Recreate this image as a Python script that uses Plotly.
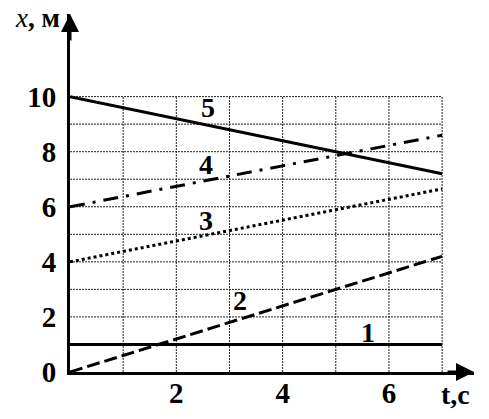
import plotly.graph_objects as go

# time points (s) and coordinates (m) for each motion line
t = [0, 7]
x1 = [1, 1]
x2 = [0, 4.2]
x3 = [4, 6.65]
x4 = [6, 8.6]
x5 = [10, 7.2]

# line number labels
label_t = [5.6, 3.2, 2.55, 2.55, 2.6]
label_x = [1.45, 2.6, 5.5, 7.55, 9.6]
label_text = ["1", "2", "3", "4", "5"]

grid_t = [1, 2, 3, 4, 5, 6, 7]
grid_x = [1, 2, 3, 4, 5, 6, 7, 8, 9, 10]
xticks = [2, 4, 6]
yticks = [0, 2, 4, 6, 8, 10]

serif = "Liberation Serif, Times New Roman, serif"

fig = go.Figure()

# grid only covers 0..7 s and 0..10 m, so draw it as shapes
for g in grid_t:
    fig.add_shape(type="line", x0=g, x1=g, y0=0, y1=10,
                  line=dict(color="#222", width=1, dash="2px,1px"), layer="below")
for g in grid_x:
    fig.add_shape(type="line", x0=0, x1=7, y0=g, y1=g,
                  line=dict(color="#222", width=1, dash="2px,1px"), layer="below")

styles = [
    (x1, "solid"),
    (x2, "13px,5px"),
    (x3, "3px,3px"),
    (x4, "15px,8px,3px,8px"),
    (x5, "solid"),
]
for ys, dash in styles:
    fig.add_trace(go.Scatter(x=t, y=ys, mode="lines",
                             line=dict(color="black", width=3, dash=dash),
                             showlegend=False))

for lt, lx, txt in zip(label_t, label_x, label_text):
    fig.add_annotation(x=lt, y=lx, text=txt, showarrow=False,
                       font=dict(family=serif, size=28, color="black", weight="bold"))

# axis arrows
fig.add_annotation(x=7.6, y=0, ax=-28, ay=0, xref="x", yref="y",
                   showarrow=True, arrowhead=2, arrowsize=1.2, arrowwidth=3,
                   arrowcolor="black", text="")
fig.add_annotation(x=0, y=13, ax=0, ay=28, xref="x", yref="y",
                   showarrow=True, arrowhead=2, arrowsize=1.2, arrowwidth=3,
                   arrowcolor="black", text="")

# axis titles
fig.add_annotation(x=-0.02, y=0.99, xref="paper", yref="paper", showarrow=False,
                   text="<i>x</i><b>, м</b>", xanchor="right", yanchor="middle",
                   font=dict(family=serif, size=27, color="black"))
fig.add_annotation(x=0.953, y=-0.064, xref="paper", yref="paper", showarrow=False,
                   text="<b>t,c</b>", xanchor="center", yanchor="middle",
                   font=dict(family=serif, size=28, color="black"))

tickfont = dict(family=serif, size=29, color="black", weight="bold")
fig.update_layout(
    width=489, height=419,
    margin=dict(l=70, r=15, t=14, b=47),
    plot_bgcolor="white", paper_bgcolor="white",
    xaxis=dict(range=[0, 7.6], showgrid=False, zeroline=False, automargin=False,
               showline=True, linecolor="black", linewidth=3,
               tickvals=xticks, ticks="", ticklabelstandoff=-7, tickfont=tickfont),
    yaxis=dict(range=[0, 13], showgrid=False, zeroline=False, automargin=False,
               showline=True, linecolor="black", linewidth=3,
               tickvals=yticks, ticks="", ticklabelstandoff=5, tickfont=tickfont),
)

fig.write_html("out.html", config={"displayModeBar": False},
               post_script="document.body.style.margin='0';")
